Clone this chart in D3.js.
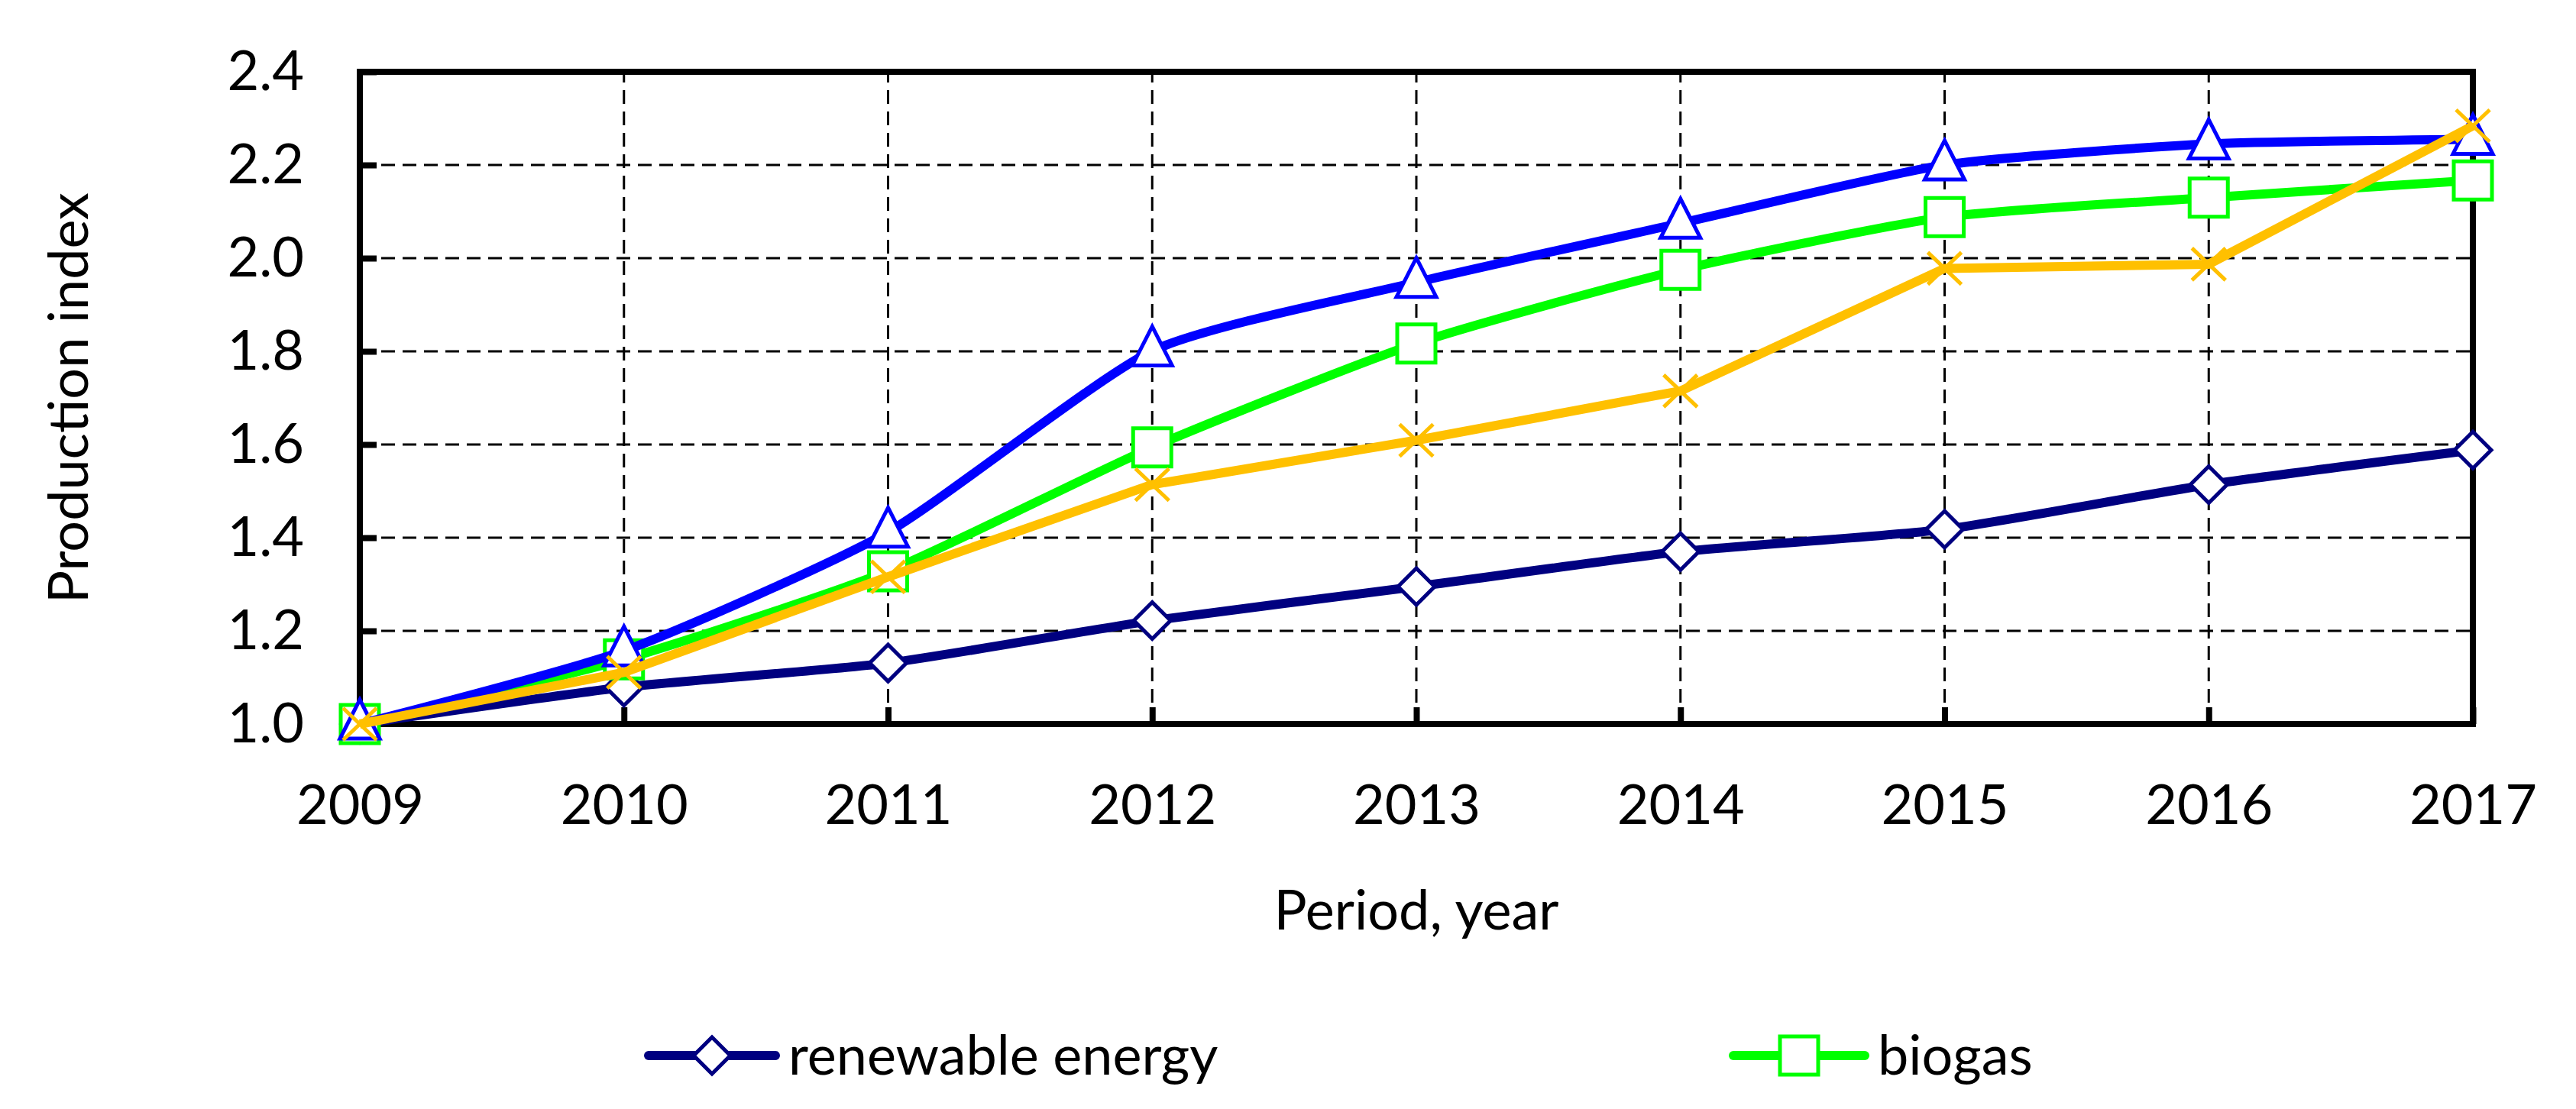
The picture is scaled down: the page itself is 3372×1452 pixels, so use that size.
<!DOCTYPE html>
<html>
<head>
<meta charset="utf-8">
<script src="https://cdn.jsdelivr.net/npm/d3@7"></script>
<style>
  body { margin: 0; background: #fff; }
  svg text { font-family: Lato, "Open Sans", sans-serif; fill: #000; }
</style>
</head>
<body>
<svg id="chart"></svg>
<script>
const WIDTH = 3372;
const HEIGHT = 1452;

// --- data
const years = [2009, 2010, 2011, 2012, 2013, 2014, 2015, 2016, 2017];
const yTicks = [1.0, 1.2, 1.4, 1.6, 1.8, 2.0, 2.2, 2.4];

const renewableEnergy = [1.0, 1.079, 1.131, 1.222, 1.295, 1.37, 1.418, 1.514, 1.588];
const biogas = [1.0, 1.139, 1.328, 1.594, 1.817, 1.975, 2.088, 2.13, 2.167];
const seriesBlue = [1.0, 1.157, 1.412, 1.801, 1.948, 2.075, 2.2, 2.245, 2.255];
const seriesOrange = [1.0, 1.111, 1.316, 1.514, 1.609, 1.715, 1.978, 1.987, 2.284];

// drawing order follows the original (navy, green, blue, orange)
const series = [
  { name: 'renewable energy', values: renewableEnergy, color: '#000080', marker: 'diamond', smooth: true, legend: true },
  { name: 'biogas', values: biogas, color: '#00ff00', marker: 'square', smooth: true, legend: true },
  { name: 'blue', values: seriesBlue, color: '#0000ff', marker: 'triangle', smooth: true, legend: false },
  { name: 'orange', values: seriesOrange, color: '#ffc000', marker: 'cross', smooth: false, legend: false },
];

const margin = { left: 471, right: WIDTH - 3237, top: 94, bottom: HEIGHT - 948 };

const svg = d3.select('#chart')
  .attr('width', WIDTH)
  .attr('height', HEIGHT);

const x = d3.scaleLinear()
  .domain([2009, 2017])
  .range([margin.left, WIDTH - margin.right]);

const y = d3.scaleLinear()
  .domain([1.0, 2.4])
  .range([HEIGHT - margin.bottom, margin.top]);

// --- grid
const grid = svg.append('g').classed('grid', true);

grid.selectAll('.hgrid')
  .data(yTicks.slice(1, -1))
  .enter()
  .append('line')
  .attr('x1', x.range()[0])
  .attr('x2', x.range()[1])
  .attr('y1', d => y(d))
  .attr('y2', d => y(d))
  .attr('stroke', '#000')
  .attr('stroke-width', 3)
  .attr('stroke-dasharray', '18,10');

grid.selectAll('.vgrid')
  .data(years.slice(1, -1))
  .enter()
  .append('line')
  .attr('x1', d => x(d))
  .attr('x2', d => x(d))
  .attr('y1', y.range()[0])
  .attr('y2', y.range()[1])
  .attr('stroke', '#000')
  .attr('stroke-width', 3)
  .attr('stroke-dasharray', '18,10');

// --- axes (ticks point inside)
const yAxis = svg.append('g')
  .attr('transform', `translate(${margin.left},0)`)
  .call(d3.axisLeft(y).tickValues(yTicks).tickFormat(d3.format('.1f')).tickSize(-22).tickPadding(73));

const xAxis = svg.append('g')
  .attr('transform', `translate(0,${HEIGHT - margin.bottom})`)
  .call(d3.axisBottom(x).tickValues(years).tickFormat(d3.format('d')).tickSize(-22).tickPadding(80));

[yAxis, xAxis].forEach(ax => {
  ax.select('.domain').remove();
  ax.selectAll('.tick line').attr('stroke', '#000').attr('stroke-width', 8);
  ax.selectAll('.tick text')
    .style('font-family', 'Lato, "Open Sans", sans-serif')
    .style('font-size', '72px');
});

// plot frame
svg.append('rect')
  .attr('x', x.range()[0])
  .attr('y', y.range()[1])
  .attr('width', x.range()[1] - x.range()[0])
  .attr('height', y.range()[0] - y.range()[1])
  .attr('fill', 'none')
  .attr('stroke', '#000')
  .attr('stroke-width', 8);

// --- axis titles
svg.append('text')
  .attr('x', (x.range()[0] + x.range()[1]) / 2)
  .attr('y', 1217)
  .attr('text-anchor', 'middle')
  .style('font-size', '72px')
  .text('Period, year');

svg.append('text')
  .attr('transform', `translate(115, ${(y.range()[0] + y.range()[1]) / 2}) rotate(-90)`)
  .attr('text-anchor', 'middle')
  .style('font-size', '72px')
  .text('Production index');

// --- markers
function markerPath(type) {
  switch (type) {
    case 'diamond': return 'M0,-24L24,0L0,24L-24,0Z';
    case 'square': return 'M-25,-25H25V25H-25Z';
    case 'triangle': return 'M0,-32L26,19H-26Z';
    case 'cross': return 'M-22,-21L22,21M22,-21L-22,21';
  }
}

function drawMarker(g, type, color) {
  g.append('path')
    .attr('d', markerPath(type))
    .attr('fill', type === 'cross' ? 'none' : '#fff')
    .attr('stroke', color)
    .attr('stroke-width', 5);
}

// --- series
const plot = svg.append('g').classed('series', true);

series.forEach(s => {
  const line = d3.line()
    .x((d, i) => x(years[i]))
    .y(d => y(d))
    .curve(s.smooth ? d3.curveCardinal.tension(0.4) : d3.curveLinear);

  const g = plot.append('g');
  g.append('path')
    .datum(s.values)
    .attr('d', line)
    .attr('fill', 'none')
    .attr('stroke', s.color)
    .attr('stroke-width', 12)
    .attr('stroke-linejoin', 'round');

  s.values.forEach((v, i) => {
    const m = g.append('g').attr('transform', `translate(${x(years[i])},${y(v)})`);
    drawMarker(m, s.marker, s.color);
  });
});

// --- legend (only the first row is visible in the original)
const legendPos = [{ x1: 849, x2: 1015, tx: 1032 }, { x1: 2269, x2: 2441, tx: 2458 }];
const legendY = 1382;

series.filter(s => s.legend).forEach((s, idx) => {
  const p = legendPos[idx];
  const g = svg.append('g').classed('legend', true);
  g.append('line')
    .attr('x1', p.x1)
    .attr('x2', p.x2)
    .attr('y1', legendY)
    .attr('y2', legendY)
    .attr('stroke', s.color)
    .attr('stroke-width', 12)
    .attr('stroke-linecap', 'round');
  const m = g.append('g').attr('transform', `translate(${(p.x1 + p.x2) / 2},${legendY})`);
  drawMarker(m, s.marker, s.color);
  g.append('text')
    .attr('x', p.tx)
    .attr('y', legendY + 25)
    .style('font-size', '72px')
    .text(s.name);
});
</script>
</body>
</html>
